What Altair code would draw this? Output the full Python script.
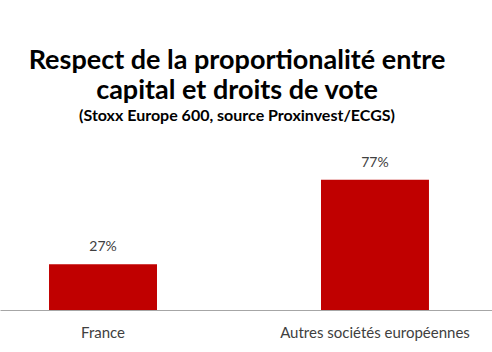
import altair as alt
import pandas as pd

categories = ["France", "Autres sociétés européennes"]
values = [27, 77]
labels = ["27%", "77%"]

df = pd.DataFrame({"cat": categories, "val": values, "lab": labels})

FONT = "Lato"

x = alt.X("cat:N", sort=categories, title=None,
          scale=alt.Scale(paddingInner=0.603, paddingOuter=0.206, align=0.4375),
          axis=alt.Axis(labelAngle=0, ticks=False, domainColor="#A6A6A6", domainWidth=1,
                        labelFont=FONT, labelFontSize=15, labelColor="#404040",
                        labelPadding=15, labelLimit=0))
y = alt.Y("val:Q", scale=alt.Scale(domain=[0, 100]), axis=None)

bars = alt.Chart(df).mark_bar(color="#C00000").encode(x=x, y=y)
text = alt.Chart(df).mark_text(dy=-17, font=FONT, fontSize=14, color="#404040").encode(
    x=alt.X("cat:N", sort=categories), y=y, text="lab:N")

chart = (bars + text).properties(
    width=492, height=169,
    background="white",
    title=alt.TitleParams(
        text=["Respect de la proportionalité entre", "capital et droits de vote"],
        subtitle="(Stoxx Europe 600, source Proxinvest/ECGS)",
        font=FONT, fontSize=27, fontWeight="bold", color="#000000", lineHeight=30,
        subtitleFont=FONT, subtitleFontSize=16, subtitleFontWeight="bold",
        subtitleColor="#000000", subtitlePadding=3,
        anchor="middle", dx=-9, offset=16),
    autosize=alt.AutoSizeParams(type="none"),
    padding={"top": 141, "left": 0, "right": 0, "bottom": 42},
).configure_view(stroke=None)

chart.save("out.html", embed_options={"renderer": "svg", "actions": False})
